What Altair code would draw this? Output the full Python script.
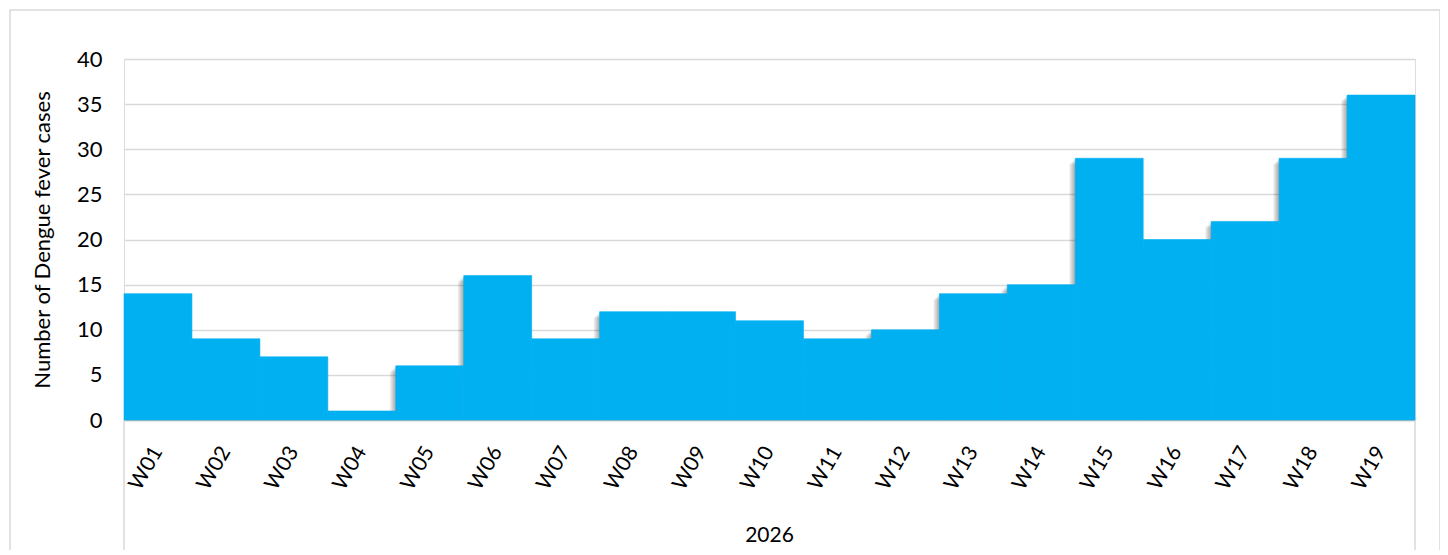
import altair as alt
import pandas as pd

weeks = ["W01","W02","W03","W04","W05","W06","W07","W08","W09","W10",
         "W11","W12","W13","W14","W15","W16","W17","W18","W19"]
cases = [14, 9, 7, 1, 6, 16, 9, 12, 12, 11, 9, 10, 14, 15, 29, 20, 22, 29, 36]
year_label = ["2026"]
y_ticks = [0, 5, 10, 15, 20, 25, 30, 35, 40]

df = pd.DataFrame({"week": weeks, "cases": cases})

W, H = 1291, 361
FONT = "Lato"

xenc = alt.X("week:N", sort=weeks,
             scale=alt.Scale(paddingInner=0, paddingOuter=0),
             axis=alt.Axis(title=None, labelAngle=300, labelFontSize=21,
                           labelFont=FONT, labelColor="#000000", labelPadding=28,
                           ticks=False, domainColor="#bfbfbf", domainWidth=1.5,
                           labelAlign="right", labelBaseline="middle"))
yenc = alt.Y("cases:Q", scale=alt.Scale(domain=[0, 40], nice=False),
             axis=alt.Axis(title="Number of Dengue fever cases", values=y_ticks,
                           titleFont=FONT, titleFontSize=22, titleFontWeight="normal",
                           titleColor="#000000", titlePadding=22,
                           labelFont=FONT, labelFontSize=22, labelColor="#000000",
                           labelPadding=22, ticks=False, domain=False,
                           grid=True, gridColor="#d9d9d9", gridWidth=1.5))

layers = []
for k in range(1, 7):
    layers.append(
        alt.Chart(df).mark_bar(color="#000000", opacity=0.06, xOffset=-k,
                               yOffset=k, clip=True)
        .encode(x=alt.X("week:N", sort=weeks,
                        scale=alt.Scale(paddingInner=0, paddingOuter=0)),
                y=alt.Y("cases:Q"))
    )

bars = alt.Chart(df).mark_bar(color="#00B0F0", stroke="#00B0F0",
                              strokeWidth=0.6).encode(x=xenc, y=yenc)

border = alt.Chart(pd.DataFrame({"a": [0]})).mark_rect(
    fill=None, stroke="#d9d9d9", strokeWidth=1.5, clip=False
).encode(x=alt.value(-114), x2=alt.value(W + 25), y=alt.value(-49), y2=alt.value(H + 200))

seps = alt.Chart(pd.DataFrame({"a": [0]})).mark_rule(color="#d9d9d9", strokeWidth=1.5).encode(
    x=alt.value(0), y=alt.value(H), y2=alt.value(H + 140))
seps2 = alt.Chart(pd.DataFrame({"a": [0]})).mark_rule(color="#d9d9d9", strokeWidth=1.5).encode(
    x=alt.value(W), y=alt.value(H), y2=alt.value(H + 140))

year = alt.Chart(pd.DataFrame({"year": year_label})).mark_text(
    font=FONT, fontSize=21, color="#000000", baseline="middle"
).encode(x=alt.value(W / 2), y=alt.value(H + 116), text="year:N")

chart = alt.layer(border, seps, seps2, *layers, bars, year).properties(
    width=W, height=H,
    autosize=alt.AutoSizeParams(type="none"),
    padding={"left": 116, "top": 51, "right": 25, "bottom": 130},
).configure_view(stroke=None).configure(background="#ffffff")

chart.save("out.html", embed_options={"renderer": "svg", "actions": False})
